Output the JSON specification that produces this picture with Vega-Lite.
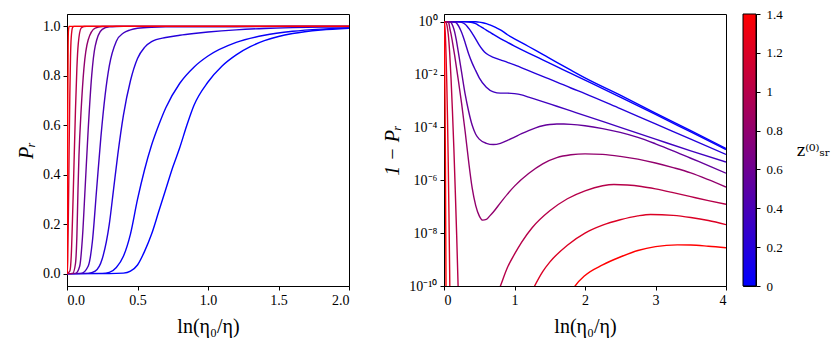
{
"$schema":"https://vega.github.io/schema/vega-lite/v6.json",
"background":"white",
"padding":{"left":16,"top":7,"right":0,"bottom":5},
"bounds":"flush",
"spacing":95,
"config":{
 "font":"Liberation Serif",
 "view":{"stroke":"black","strokeWidth":1},
 "axis":{"grid":false,"domainColor":"black","tickColor":"black","labelColor":"black","titleColor":"black","labelFont":"Liberation Serif","titleFont":"Liberation Serif","labelFontSize":14,"titleFontSize":20,"titleFontWeight":"normal","tickSize":4,"labelPadding":3,"titlePadding":6},
 "axisX":{"titlePadding":9}
},
"datasets":{"curves":[
{"z":0,"x":0,"q":1,"p":0},{"z":0,"x":0.3,"q":1,"p":0},{"z":0,"x":0.4,"q":0.998,"p":0.002},{"z":0,"x":0.45,"q":0.99,"p":0.01},{"z":0,"x":0.5,"q":0.965,"p":0.035},{"z":0,"x":0.55,"q":0.91,"p":0.09},{"z":0,"x":0.6,"q":0.84,"p":0.16},{"z":0,"x":0.65,"q":0.75,"p":0.25},{"z":0,"x":0.7,"q":0.66,"p":0.34},{"z":0,"x":0.75,"q":0.57,"p":0.43},{"z":0,"x":0.8,"q":0.49,"p":0.51},{"z":0,"x":0.85,"q":0.4,"p":0.6},{"z":0,"x":0.9,"q":0.32,"p":0.68},{"z":0,"x":1.0,"q":0.225,"p":0.775},{"z":0,"x":1.1,"q":0.16,"p":0.84},{"z":0,"x":1.2,"q":0.115,"p":0.885},{"z":0,"x":1.3,"q":0.082,"p":0.918},{"z":0,"x":1.4,"q":0.058,"p":0.942},{"z":0,"x":1.5,"q":0.041,"p":0.959},{"z":0,"x":1.6,"q":0.029,"p":0.971},{"z":0,"x":1.8,"q":0.0146,"p":0.9854},{"z":0,"x":2.0,"q":0.0074,"p":0.9926},{"z":0,"x":2.5,"q":0.00165,"p":0.9984},{"z":0,"x":3.0,"q":0.00035,"p":0.9997},{"z":0,"x":3.5,"q":0.000075,"p":0.9999},{"z":0,"x":4.0,"q":0.000016,"p":1},
{"z":0.05,"x":0,"q":1,"p":0},{"z":0.05,"x":0.25,"q":0.999,"p":0.001},{"z":0.05,"x":0.3,"q":0.995,"p":0.005},{"z":0.05,"x":0.35,"q":0.975,"p":0.025},{"z":0.05,"x":0.4,"q":0.93,"p":0.07},{"z":0.05,"x":0.45,"q":0.84,"p":0.16},{"z":0.05,"x":0.5,"q":0.7,"p":0.3},{"z":0.05,"x":0.55,"q":0.58,"p":0.42},{"z":0.05,"x":0.6,"q":0.48,"p":0.52},{"z":0.05,"x":0.65,"q":0.4,"p":0.6},{"z":0.05,"x":0.7,"q":0.33,"p":0.67},{"z":0.05,"x":0.8,"q":0.23,"p":0.77},{"z":0.05,"x":0.9,"q":0.165,"p":0.835},{"z":0.05,"x":1.0,"q":0.12,"p":0.88},{"z":0.05,"x":1.2,"q":0.065,"p":0.935},{"z":0.05,"x":1.4,"q":0.036,"p":0.964},{"z":0.05,"x":1.6,"q":0.02,"p":0.98},{"z":0.05,"x":1.8,"q":0.011,"p":0.989},{"z":0.05,"x":2.0,"q":0.0062,"p":0.9938},{"z":0.05,"x":2.5,"q":0.0014,"p":0.9986},{"z":0.05,"x":3.0,"q":0.00031,"p":0.9997},{"z":0.05,"x":3.5,"q":0.000067,"p":0.9999},{"z":0.05,"x":4.0,"q":0.0000145,"p":1},
{"z":0.2,"x":0,"q":1,"p":0},{"z":0.2,"x":0.15,"q":0.999,"p":0.001},{"z":0.2,"x":0.2,"q":0.99,"p":0.01},{"z":0.2,"x":0.25,"q":0.94,"p":0.06},{"z":0.2,"x":0.3,"q":0.8,"p":0.2},{"z":0.2,"x":0.33,"q":0.66,"p":0.34},{"z":0.2,"x":0.36,"q":0.52,"p":0.48},{"z":0.2,"x":0.4,"q":0.36,"p":0.64},{"z":0.2,"x":0.45,"q":0.22,"p":0.78},{"z":0.2,"x":0.5,"q":0.13,"p":0.87},{"z":0.2,"x":0.55,"q":0.085,"p":0.915},{"z":0.2,"x":0.6,"q":0.062,"p":0.938},{"z":0.2,"x":0.7,"q":0.045,"p":0.955},{"z":0.2,"x":0.8,"q":0.036,"p":0.964},{"z":0.2,"x":0.9,"q":0.029,"p":0.971},{"z":0.2,"x":1.0,"q":0.023,"p":0.977},{"z":0.2,"x":1.2,"q":0.014,"p":0.986},{"z":0.2,"x":1.4,"q":0.0085,"p":0.9915},{"z":0.2,"x":1.6,"q":0.0052,"p":0.9948},{"z":0.2,"x":1.8,"q":0.0031,"p":0.9969},{"z":0.2,"x":2.0,"q":0.0019,"p":0.9981},{"z":0.2,"x":2.5,"q":0.00051,"p":0.9995},{"z":0.2,"x":3.0,"q":0.000135,"p":0.9999},{"z":0.2,"x":3.5,"q":0.000036,"p":1},{"z":0.2,"x":4.0,"q":0.0000095,"p":1},
{"z":0.35,"x":0,"q":1,"p":0},{"z":0.35,"x":0.1,"q":0.999,"p":0.001},{"z":0.35,"x":0.15,"q":0.97,"p":0.03},{"z":0.35,"x":0.18,"q":0.87,"p":0.13},{"z":0.35,"x":0.21,"q":0.66,"p":0.34},{"z":0.35,"x":0.24,"q":0.45,"p":0.55},{"z":0.35,"x":0.27,"q":0.28,"p":0.72},{"z":0.35,"x":0.3,"q":0.16,"p":0.84},{"z":0.35,"x":0.35,"q":0.06,"p":0.94},{"z":0.35,"x":0.4,"q":0.027,"p":0.973},{"z":0.35,"x":0.45,"q":0.014,"p":0.986},{"z":0.35,"x":0.5,"q":0.0075,"p":0.9925},{"z":0.35,"x":0.6,"q":0.0033,"p":0.9967},{"z":0.35,"x":0.7,"q":0.0022,"p":0.9978},{"z":0.35,"x":0.8,"q":0.00198,"p":0.998},{"z":0.35,"x":0.9,"q":0.00198,"p":0.998},{"z":0.35,"x":1.0,"q":0.0019,"p":0.9981},{"z":0.35,"x":1.1,"q":0.0017,"p":0.9983},{"z":0.35,"x":1.2,"q":0.0014,"p":0.9986},{"z":0.35,"x":1.4,"q":0.00095,"p":0.9991},{"z":0.35,"x":1.6,"q":0.00063,"p":0.9994},{"z":0.35,"x":1.8,"q":0.00042,"p":0.9996},{"z":0.35,"x":2.0,"q":0.00028,"p":0.9997},{"z":0.35,"x":2.5,"q":0.0001,"p":0.9999},{"z":0.35,"x":3.0,"q":0.000036,"p":1},{"z":0.35,"x":3.5,"q":0.000013,"p":1},{"z":0.35,"x":4.0,"q":0.0000049,"p":1},
{"z":0.55,"x":0,"q":1,"p":0},{"z":0.55,"x":0.06,"q":0.999,"p":0.001},{"z":0.55,"x":0.09,"q":0.97,"p":0.03},{"z":0.55,"x":0.11,"q":0.85,"p":0.15},{"z":0.55,"x":0.128,"q":0.66,"p":0.34},{"z":0.55,"x":0.15,"q":0.42,"p":0.58},{"z":0.55,"x":0.175,"q":0.2,"p":0.8},{"z":0.55,"x":0.2,"q":0.08,"p":0.92},{"z":0.55,"x":0.25,"q":0.012,"p":0.988},{"z":0.55,"x":0.3,"q":0.0018,"p":0.9982},{"z":0.55,"x":0.35,"q":0.0004,"p":0.9996},{"z":0.55,"x":0.4,"q":0.00012,"p":0.9999},{"z":0.55,"x":0.45,"q":0.000055,"p":0.9999},{"z":0.55,"x":0.5,"q":0.000036,"p":1},{"z":0.55,"x":0.6,"q":0.000025,"p":1},{"z":0.55,"x":0.7,"q":0.0000225,"p":1},{"z":0.55,"x":0.8,"q":0.000025,"p":1},{"z":0.55,"x":0.9,"q":0.000032,"p":1},{"z":0.55,"x":1.0,"q":0.000043,"p":1},{"z":0.55,"x":1.1,"q":0.000058,"p":0.9999},{"z":0.55,"x":1.2,"q":0.000076,"p":0.9999},{"z":0.55,"x":1.3,"q":0.000096,"p":0.9999},{"z":0.55,"x":1.4,"q":0.000115,"p":0.9999},{"z":0.55,"x":1.5,"q":0.000128,"p":0.9999},{"z":0.55,"x":1.6,"q":0.000135,"p":0.9999},{"z":0.55,"x":1.7,"q":0.000134,"p":0.9999},{"z":0.55,"x":1.8,"q":0.00013,"p":0.9999},{"z":0.55,"x":2.0,"q":0.000115,"p":0.9999},{"z":0.55,"x":2.25,"q":0.00009,"p":0.9999},{"z":0.55,"x":2.5,"q":0.000065,"p":0.9999},{"z":0.55,"x":2.75,"q":0.000042,"p":1},{"z":0.55,"x":3.0,"q":0.000024,"p":1},{"z":0.55,"x":3.25,"q":0.000013,"p":1},{"z":0.55,"x":3.5,"q":0.0000068,"p":1},{"z":0.55,"x":3.75,"q":0.0000036,"p":1},{"z":0.55,"x":4.0,"q":0.00000186,"p":1},
{"z":0.8,"x":0,"q":1,"p":0},{"z":0.8,"x":0.04,"q":0.999,"p":0.001},{"z":0.8,"x":0.06,"q":0.96,"p":0.04},{"z":0.8,"x":0.07,"q":0.85,"p":0.15},{"z":0.8,"x":0.078,"q":0.66,"p":0.34},{"z":0.8,"x":0.085,"q":0.52,"p":0.48},{"z":0.8,"x":0.09,"q":0.45,"p":0.55},{"z":0.8,"x":0.1,"q":0.34,"p":0.66},{"z":0.8,"x":0.12,"q":0.17,"p":0.83},{"z":0.8,"x":0.15,"q":0.055,"p":0.945},{"z":0.8,"x":0.2,"q":0.007,"p":0.993},{"z":0.8,"x":0.25,"q":0.0008,"p":0.9992},{"z":0.8,"x":0.3,"q":0.00007,"p":0.9999},{"z":0.8,"x":0.35,"q":0.000005,"p":1},{"z":0.8,"x":0.4,"q":5e-7,"p":1},{"z":0.8,"x":0.45,"q":1.1e-7,"p":1},{"z":0.8,"x":0.5,"q":4.5e-8,"p":1},{"z":0.8,"x":0.55,"q":3.1e-8,"p":1},{"z":0.8,"x":0.6,"q":3.3e-8,"p":1},{"z":0.8,"x":0.65,"q":4.5e-8,"p":1},{"z":0.8,"x":0.7,"q":6.3e-8,"p":1},{"z":0.8,"x":0.8,"q":1.4e-7,"p":1},{"z":0.8,"x":0.9,"q":3e-7,"p":1},{"z":0.8,"x":1.0,"q":6e-7,"p":1},{"z":0.8,"x":1.2,"q":1.8e-6,"p":1},{"z":0.8,"x":1.4,"q":4.2e-6,"p":1},{"z":0.8,"x":1.6,"q":7.2e-6,"p":1},{"z":0.8,"x":1.8,"q":9.2e-6,"p":1},{"z":0.8,"x":2.0,"q":1e-5,"p":1},{"z":0.8,"x":2.25,"q":9.5e-6,"p":1},{"z":0.8,"x":2.5,"q":8e-6,"p":1},{"z":0.8,"x":2.75,"q":6.3e-6,"p":1},{"z":0.8,"x":3.0,"q":4.5e-6,"p":1},{"z":0.8,"x":3.25,"q":3e-6,"p":1},{"z":0.8,"x":3.5,"q":1.9e-6,"p":1},{"z":0.8,"x":3.75,"q":1.05e-6,"p":1},{"z":0.8,"x":4.0,"q":5.5e-7,"p":1},
{"z":1.0,"x":0,"q":1,"p":0},{"z":1.0,"x":0.02,"q":0.99,"p":0.01},{"z":1.0,"x":0.03,"q":0.93,"p":0.07},{"z":1.0,"x":0.04,"q":0.76,"p":0.24},{"z":1.0,"x":0.045,"q":0.66,"p":0.34},{"z":1.0,"x":0.05,"q":0.55,"p":0.45},{"z":1.0,"x":0.06,"q":0.34,"p":0.66},{"z":1.0,"x":0.07,"q":0.17,"p":0.83},{"z":1.0,"x":0.08,"q":0.07,"p":0.93},{"z":1.0,"x":0.1,"q":0.007,"p":0.993},{"z":1.0,"x":0.12,"q":0.0004,"p":0.9996},{"z":1.0,"x":0.14,"q":0.000016,"p":1},{"z":1.0,"x":0.16,"q":4e-7,"p":1},{"z":1.0,"x":0.18,"q":8e-9,"p":1},{"z":1.0,"x":0.2,"q":1e-10,"p":1},{"z":1.0,"x":0.22,"q":1e-12,"p":1},{"z":1.0,"x":0.25,"q":1e-15,"p":1},{"z":1.0,"x":0.5,"q":1e-18,"p":1},{"z":1.0,"x":0.7,"q":2e-11,"p":1},{"z":1.0,"x":0.8,"q":1e-10,"p":1},{"z":1.0,"x":0.9,"q":5e-10,"p":1},{"z":1.0,"x":1.0,"q":1.6e-9,"p":1},{"z":1.0,"x":1.1,"q":4.5e-9,"p":1},{"z":1.0,"x":1.25,"q":1.6e-8,"p":1},{"z":1.0,"x":1.5,"q":7e-8,"p":1},{"z":1.0,"x":1.75,"q":2e-7,"p":1},{"z":1.0,"x":2.0,"q":4e-7,"p":1},{"z":1.0,"x":2.25,"q":6.2e-7,"p":1},{"z":1.0,"x":2.41,"q":6.9e-7,"p":1},{"z":1.0,"x":2.6,"q":6.6e-7,"p":1},{"z":1.0,"x":2.8,"q":5.8e-7,"p":1},{"z":1.0,"x":3.0,"q":4.7e-7,"p":1},{"z":1.0,"x":3.25,"q":3.4e-7,"p":1},{"z":1.0,"x":3.5,"q":2.4e-7,"p":1},{"z":1.0,"x":3.75,"q":1.7e-7,"p":1},{"z":1.0,"x":4.0,"q":1.23e-7,"p":1},
{"z":1.2,"x":0,"q":1,"p":0},{"z":1.2,"x":0.005,"q":0.95,"p":0.05},{"z":1.2,"x":0.01,"q":0.75,"p":0.25},{"z":1.2,"x":0.012,"q":0.66,"p":0.34},{"z":1.2,"x":0.015,"q":0.5,"p":0.5},{"z":1.2,"x":0.02,"q":0.28,"p":0.72},{"z":1.2,"x":0.025,"q":0.12,"p":0.88},{"z":1.2,"x":0.03,"q":0.045,"p":0.955},{"z":1.2,"x":0.04,"q":0.004,"p":0.996},{"z":1.2,"x":0.05,"q":0.0002,"p":0.9998},{"z":1.2,"x":0.06,"q":5e-6,"p":1},{"z":1.2,"x":0.07,"q":6e-8,"p":1},{"z":1.2,"x":0.08,"q":4e-10,"p":1},{"z":1.2,"x":0.09,"q":1e-12,"p":1},{"z":1.2,"x":0.1,"q":1e-14,"p":1},{"z":1.2,"x":0.6,"q":1e-20,"p":1},{"z":1.2,"x":1.1,"q":5e-12,"p":1},{"z":1.2,"x":1.2,"q":3.5e-11,"p":1},{"z":1.2,"x":1.285,"q":1e-10,"p":1},{"z":1.2,"x":1.4,"q":3.5e-10,"p":1},{"z":1.2,"x":1.5,"q":8e-10,"p":1},{"z":1.2,"x":1.75,"q":3.5e-9,"p":1},{"z":1.2,"x":2.0,"q":1e-8,"p":1},{"z":1.2,"x":2.25,"q":2e-8,"p":1},{"z":1.2,"x":2.5,"q":3.2e-8,"p":1},{"z":1.2,"x":2.75,"q":4.5e-8,"p":1},{"z":1.2,"x":2.93,"q":5.1e-8,"p":1},{"z":1.2,"x":3.25,"q":4.7e-8,"p":1},{"z":1.2,"x":3.5,"q":3.9e-8,"p":1},{"z":1.2,"x":3.75,"q":3e-8,"p":1},{"z":1.2,"x":4.0,"q":2.1e-8,"p":1},
{"z":1.4,"x":0,"q":1,"p":0},{"z":1.4,"x":0.002,"q":0.85,"p":0.15},{"z":1.4,"x":0.003,"q":0.66,"p":0.34},{"z":1.4,"x":0.005,"q":0.35,"p":0.65},{"z":1.4,"x":0.008,"q":0.08,"p":0.92},{"z":1.4,"x":0.01,"q":0.02,"p":0.98},{"z":1.4,"x":0.015,"q":0.0005,"p":0.9995},{"z":1.4,"x":0.02,"q":5e-6,"p":1},{"z":1.4,"x":0.025,"q":1e-8,"p":1},{"z":1.4,"x":0.03,"q":1e-11,"p":1},{"z":1.4,"x":0.035,"q":1e-14,"p":1},{"z":1.4,"x":1.0,"q":1e-20,"p":1},{"z":1.4,"x":1.6,"q":3e-12,"p":1},{"z":1.4,"x":1.75,"q":3e-11,"p":1},{"z":1.4,"x":1.86,"q":1e-10,"p":1},{"z":1.4,"x":2.0,"q":2.5e-10,"p":1},{"z":1.4,"x":2.25,"q":6.3e-10,"p":1},{"z":1.4,"x":2.5,"q":1.25e-9,"p":1},{"z":1.4,"x":2.75,"q":2.2e-9,"p":1},{"z":1.4,"x":3.0,"q":3.1e-9,"p":1},{"z":1.4,"x":3.31,"q":3.6e-9,"p":1},{"z":1.4,"x":3.5,"q":3.55e-9,"p":1},{"z":1.4,"x":3.75,"q":3.2e-9,"p":1},{"z":1.4,"x":4.0,"q":2.8e-9,"p":1}
]},
"hconcat":[
 {"width":282,"height":272,
  "data":{"name":"curves"},
  "transform":[{"filter":"datum.x <= 2"}],
  "mark":{"type":"line","clip":true,"strokeWidth":1.4,"interpolate":"monotone"},
  "encoding":{
   "x":{"field":"x","type":"quantitative","scale":{"domain":[0,2],"nice":false},"axis":{"values":[0,0.5,1,1.5,2],"format":".1f","title":"ln(η₀/η)"}},
   "y":{"field":"p","type":"quantitative","scale":{"domain":[-0.05,1.05],"nice":false,"zero":false},"axis":{"values":[0,0.2,0.4,0.6,0.8,1],"format":".1f","title":"Pᵣ","titleFontStyle":"italic"}},
   "color":{"field":"z","type":"quantitative","scale":{"domain":[0,1.4],"range":["#0000ff","#ff0000"],"interpolate":"rgb"},"legend":null},
   "detail":{"field":"z"},
   "order":{"field":"x"}
  }},
 {"spacing":17,"bounds":"flush",
  "hconcat":[
  {"width":282,"height":272,
   "data":{"name":"curves"},
   "mark":{"type":"line","clip":true,"strokeWidth":1.4,"interpolate":"monotone"},
   "encoding":{
    "x":{"field":"x","type":"quantitative","scale":{"domain":[0,4],"nice":false},"axis":{"values":[0,1,2,3,4],"format":"d","title":"ln(η₀/η)"}},
    "y":{"field":"q","type":"quantitative","scale":{"type":"log","domain":[1e-10,1.95],"nice":false},"axis":{"values":[1,0.01,0.0001,0.000001,1e-8,1e-10],"labelExpr":"datum.value > 0.5 ? '10⁰' : datum.value > 0.005 ? '10⁻²' : datum.value > 0.00005 ? '10⁻⁴' : datum.value > 5e-7 ? '10⁻⁶' : datum.value > 5e-9 ? '10⁻⁸' : '10⁻¹⁰'","title":"1 − Pᵣ","titleFontStyle":"italic"}},
    "color":{"field":"z","type":"quantitative","legend":null},
    "detail":{"field":"z"},
    "order":{"field":"x"}
   }},
  {"width":13,"height":272,
   "data":{"values":[{"lo":0,"hi":1.4}]},
   "mark":{"type":"rect","stroke":"black","strokeWidth":1,"color":{"gradient":"linear","x1":0,"y1":1,"x2":0,"y2":0,"stops":[{"offset":0,"color":"#0000ff"},{"offset":1,"color":"#ff0000"}]}},
   "encoding":{
    "y":{"field":"lo","type":"quantitative","scale":{"domain":[0,1.4],"nice":false,"zero":false},"axis":{"orient":"right","values":[0,0.2,0.4,0.6,0.8,1,1.2,1.4],"format":"~g","labelFontSize":13,"labelPadding":6,"domain":false,"title":"z⁽⁰⁾ₛᵣ","titleFont":"DejaVu Serif","titleAngle":0,"titleAlign":"left","titleBaseline":"middle","titlePadding":14,"titleFontSize":16}},
    "y2":{"field":"hi"}
   }}
  ]}
]
}
